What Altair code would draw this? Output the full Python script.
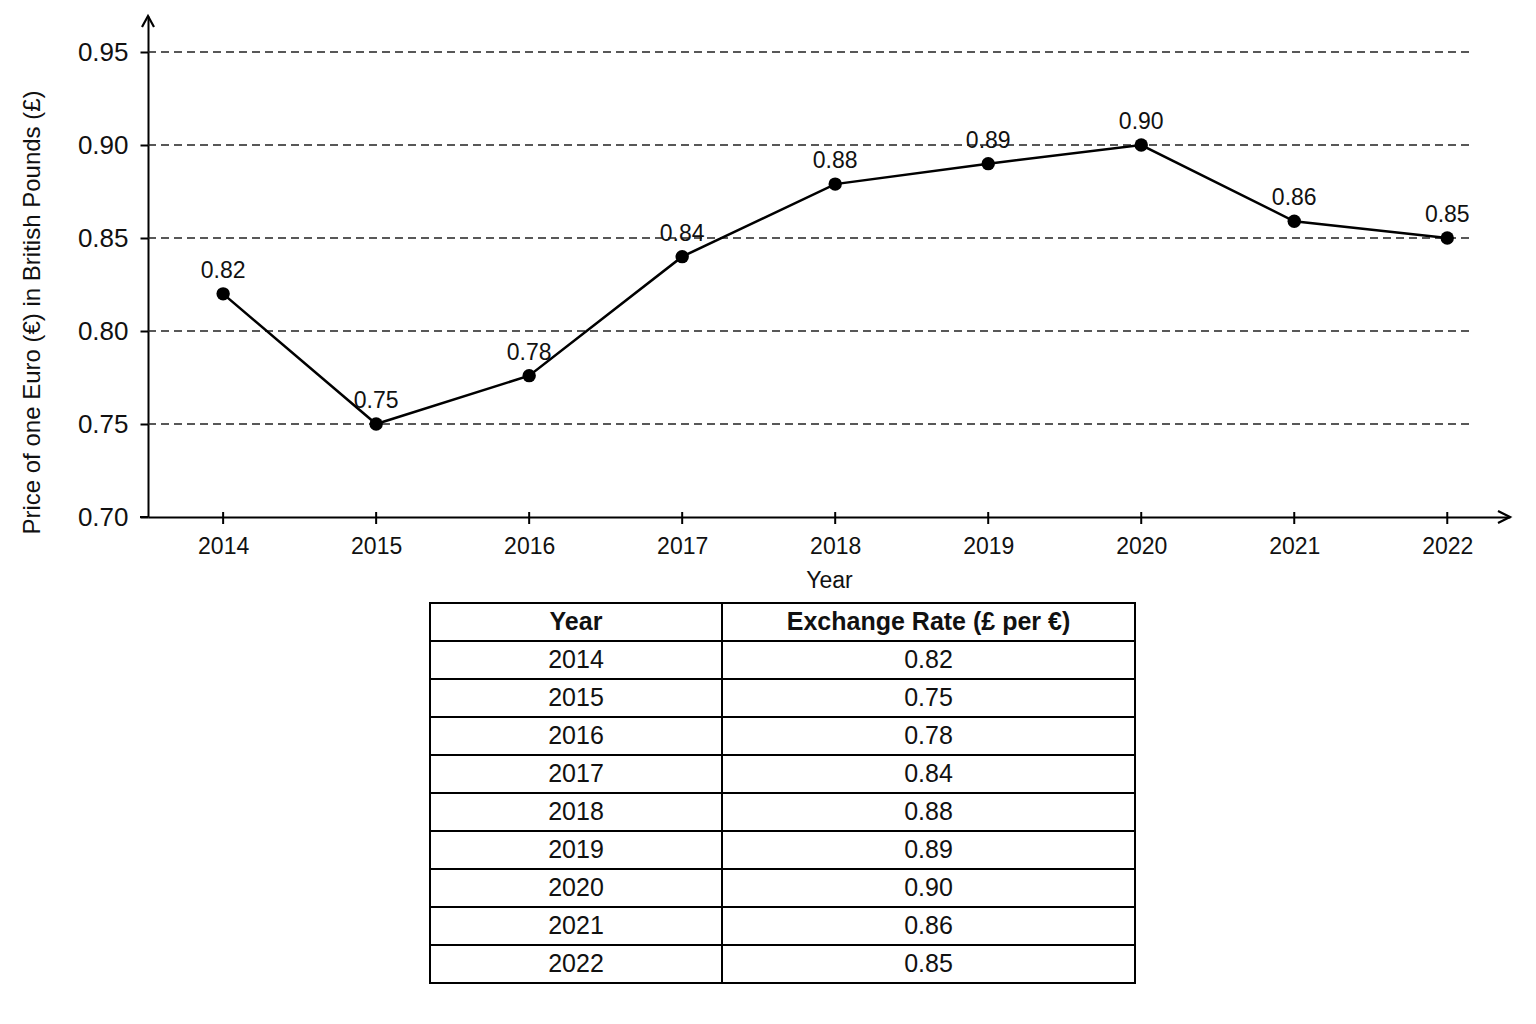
import altair as alt
import pandas as pd

# values
years = [2014, 2015, 2016, 2017, 2018, 2019, 2020, 2021, 2022]
rates = [0.82, 0.75, 0.776, 0.84, 0.879, 0.89, 0.90, 0.859, 0.85]
rate_labels = ["0.82", "0.75", "0.78", "0.84", "0.88", "0.89", "0.90", "0.86", "0.85"]
y_ticks = [0.70, 0.75, 0.80, 0.85, 0.90, 0.95]
grid_values = [0.75, 0.80, 0.85, 0.90, 0.95]
table_header = ["Year", "Exchange Rate (£ per €)"]

FONT = "Liberation Sans"
W, H = 1362, 501
GRID_END = 1322
ROW_H = 38
COL_EDGES = [282, 574, 987]

df = pd.DataFrame({"year": years, "rate": rates, "label": rate_labels})
grid_df = pd.DataFrame({"rate": grid_values})
one = pd.DataFrame({"k": [0]})

x = alt.X(
    "year:Q",
    scale=alt.Scale(domain=[2013.509, 2022.41], nice=False, zero=False),
    axis=alt.Axis(
        values=years, format="d", ticks=False, grid=False,
        domainWidth=2, domainColor="black",
        labelFontSize=23, labelPadding=18, labelColor="#111",
        title="Year", titleFontSize=23, titleFontWeight="normal",
        titlePadding=11, titleColor="#111",
    ),
)
y = alt.Y(
    "rate:Q",
    scale=alt.Scale(domain=[0.70, 0.9694], nice=False, zero=False),
    axis=alt.Axis(
        values=y_ticks, format=".2f", grid=False,
        tickSize=8, tickWidth=2, tickColor="black",
        domainWidth=2, domainColor="black",
        labelFontSize=26, labelPadding=12, labelColor="#111",
        title="Price of one Euro (€) in British Pounds (£)",
        titleFontSize=24, titleFontWeight="normal", titlePadding=33,
        titleColor="#111", titleY=296,
    ),
)

grid = alt.Chart(grid_df).mark_rule(
    strokeDash=[8, 5], strokeWidth=1.5, color="#222"
).encode(y=y, x=alt.value(0), x2=alt.value(GRID_END))

xticks = alt.Chart(df).mark_rule(strokeWidth=2, color="black").encode(
    x=x, y=alt.value(H - 5), y2=alt.value(H + 7)
)

axis_stub = alt.Chart(one).mark_rule(strokeWidth=2, color="black").encode(
    x=alt.value(-8), x2=alt.value(0), y=alt.value(H)
)

arrow_up = alt.Chart(one).mark_point(
    shape="M -0.5 0.92 L 0 0 L 0.5 0.92", filled=False, size=576,
    stroke="black", strokeWidth=2.2, opacity=1,
).encode(x=alt.value(0), y=alt.value(0))

arrow_right = alt.Chart(one).mark_point(
    shape="M -1 -0.5 L 0 0 L -1 0.5", filled=False, size=576,
    stroke="black", strokeWidth=2.2, opacity=1,
).encode(x=alt.value(W), y=alt.value(H))

line = alt.Chart(df).mark_line(color="black", strokeWidth=2.5).encode(x=x, y=y)
points = alt.Chart(df).mark_point(
    filled=True, color="black", size=180, opacity=1
).encode(x=x, y=y)
labels = alt.Chart(df).mark_text(
    dy=-16, baseline="alphabetic", fontSize=23, color="#111"
).encode(x=x, y=y, text="label:N")

plot = alt.layer(
    grid, axis_stub, xticks, line, points, labels, arrow_up, arrow_right
).properties(width=W, height=H)

# table cells
table_rows = [table_header] + [[str(yr), lab] for yr, lab in zip(years, rate_labels)]
cells = []
for r, row in enumerate(table_rows):
    for c, txt in enumerate(row):
        cells.append({
            "x0": COL_EDGES[c], "x1": COL_EDGES[c + 1],
            "y0": r * ROW_H, "y1": (r + 1) * ROW_H,
            "xc": (COL_EDGES[c] + COL_EDGES[c + 1]) / 2,
            "yc": (r + 0.5) * ROW_H,
            "text": txt, "header": r == 0,
        })
cells_df = pd.DataFrame(cells)
TH = ROW_H * len(table_rows)

tx = alt.Scale(domain=[0, W], nice=False, zero=False)
ty = alt.Scale(domain=[0, TH], nice=False, zero=False, reverse=True)

rects = alt.Chart(cells_df).mark_rect(
    fill="white", stroke="black", strokeWidth=2
).encode(
    x=alt.X("x0:Q", scale=tx, axis=None), x2="x1:Q",
    y=alt.Y("y0:Q", scale=ty, axis=None), y2="y1:Q",
)
body = alt.Chart(cells_df).transform_filter("!datum.header").mark_text(
    fontSize=25, baseline="middle", color="#111"
).encode(
    x=alt.X("xc:Q", scale=tx, axis=None),
    y=alt.Y("yc:Q", scale=ty, axis=None),
    text="text:N",
)
head = alt.Chart(cells_df).transform_filter("datum.header").mark_text(
    fontSize=25, baseline="middle", fontWeight="bold", color="#111"
).encode(
    x=alt.X("xc:Q", scale=tx, axis=None),
    y=alt.Y("yc:Q", scale=ty, axis=None),
    text="text:N",
)
table = alt.layer(rects, body, head).properties(width=W, height=TH)

chart = (
    alt.vconcat(plot, table, spacing=10)
    .properties(padding={"left": 12, "top": 3, "right": 5, "bottom": 5})
    .configure(font=FONT)
    .configure_view(stroke=None)
)

chart.save("out.html", embed_options={"renderer": "svg", "actions": False})
